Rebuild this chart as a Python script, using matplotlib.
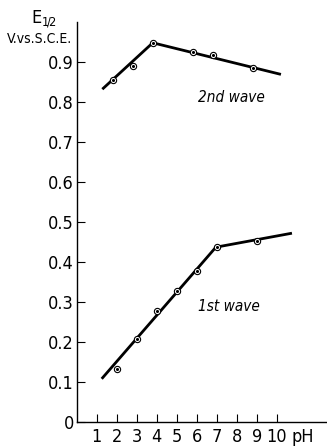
import matplotlib
matplotlib.use("Agg")
import matplotlib.pyplot as plt

# ---- data ----
ph_pts2 = [1.8, 2.8, 3.8, 5.8, 6.8, 8.8]
e_pts2 = [0.855, 0.891, 0.948, 0.925, 0.918, 0.886]
ph_line2 = [1.28, 3.8, 10.2]
e_line2 = [0.832, 0.948, 0.869]

ph_pts1 = [2, 3, 4, 5, 6, 7, 9]
e_pts1 = [0.132, 0.208, 0.278, 0.328, 0.378, 0.437, 0.453]
ph_line1 = [1.25, 6.95, 10.75]
e_line1 = [0.108, 0.437, 0.472]

yticks = [0, 0.1, 0.2, 0.3, 0.4, 0.5, 0.6, 0.7, 0.8, 0.9]
ytick_labels = ["0", "0.1", "0.2", "0.3", "0.4", "0.5", "0.6", "0.7", "0.8", "0.9"]
xticks = [1, 2, 3, 4, 5, 6, 7, 8, 9, 10]
xtick_labels = [str(v) for v in xticks]

plt.rcParams["font.family"] = ["DejaVu Sans"]
plt.rcParams["font.stretch"] = "condensed"

fig = plt.figure(figsize=(3.27, 4.46), dpi=100)
ax = fig.add_axes([0.2345, 0.0538, 0.7655, 0.8969])
ax.set_xlim(0, 12.5)
ax.set_ylim(0, 1.0)

for s in ["top", "right"]:
    ax.spines[s].set_visible(False)
for s in ["left", "bottom"]:
    ax.spines[s].set_linewidth(1.0)

ax.plot(ph_line2, e_line2, color="black", lw=2.0, solid_capstyle="butt")
ax.plot(ph_line1, e_line1, color="black", lw=2.0, solid_capstyle="butt")
for xs, ys in [(ph_pts2, e_pts2), (ph_pts1, e_pts1)]:
    ax.plot(xs, ys, ls="none", marker="o", ms=4.5, mfc="white", mec="black", mew=0.8)
    ax.plot(xs, ys, ls="none", marker="o", ms=1.2, color="black")

ax.set_yticks(yticks)
ax.set_yticklabels(ytick_labels)
ax.set_xticks(xticks)
ax.set_xticklabels(xtick_labels)
ax.tick_params(axis="both", direction="in", length=6, width=0.8, labelsize=13, pad=4)
ax.tick_params(axis="y", pad=2)

ax.text(7.75, 0.81, "2nd wave", fontsize=11, style="italic", ha="center", va="center")
ax.text(7.6, 0.288, "1st wave", fontsize=11, style="italic", ha="center", va="center")

fig.text(303 / 327, 1 - 437 / 446, "pH", fontsize=13, ha="center", va="center")
fig.text(44 / 327, 1 - 19 / 446, r"E$_{1\!/\!2}$", fontsize=13, ha="center", va="center")
fig.text(40 / 327, 1 - 39 / 446, "V.vs.S.C.E.", fontsize=10, ha="center", va="center")

fig.savefig("out.png", dpi=100)
